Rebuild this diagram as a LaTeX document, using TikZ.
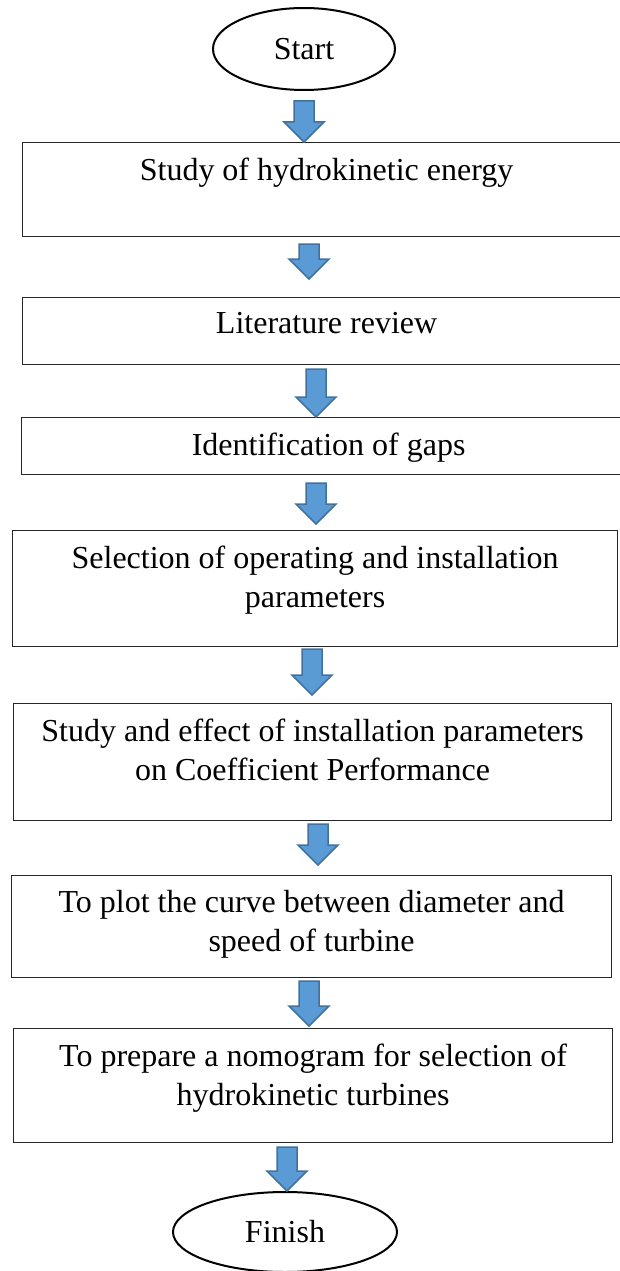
\documentclass[tikz,border=0pt]{standalone}
\usepackage{fontspec}
\setmainfont{Liberation Serif}
\usetikzlibrary{shapes.geometric,calc}
\definecolor{arrfill}{HTML}{5B9BD5}
\definecolor{arrline}{HTML}{41719C}
\tikzset{
  box/.style={draw=black!85, line width=1.2pt, inner sep=0pt, anchor=north west,
    font=\fontsize{32}{39}\selectfont},
  term/.style={ellipse, draw=black, line width=2pt, inner sep=0pt,
    font=\fontsize{32}{39}\selectfont},
  blockarrow/.style={fill=arrfill, draw=arrline, line width=1.5pt, line join=miter}
}
% #1 from node, #2 to node, #3 x centre, #4 gap below source, #5 gap above target
\newcommand{\flowarrow}[5]{%
  \path[blockarrow] let \p1=(#1.south), \p2=(#2.north) in
    ({(#3-10)*1pt},{\y1-#4pt}) -- ({(#3+10)*1pt},{\y1-#4pt})
    -- ({(#3+10)*1pt},{\y2+#5pt+20pt}) -- ({(#3+20)*1pt},{\y2+#5pt+20pt})
    -- ({#3*1pt},{\y2+#5pt}) -- ({(#3-20)*1pt},{\y2+#5pt+20pt})
    -- ({(#3-10)*1pt},{\y2+#5pt+20pt}) -- cycle;}
\newcommand{\boxcontent}[3]{\parbox[c][#1pt][t]{#2pt}{\centering\vspace*{15pt}#3\par}}
\begin{document}
\begin{tikzpicture}[x=1pt,y=-1pt]
\useasboundingbox (0,0) rectangle (620,1271);
\node[term, minimum width=182pt, minimum height=82pt] (start) at (304,49) {Start};
\node[box] (b1) at (22,142) {\boxcontent{94}{608}{Study of hydrokinetic energy}};
\node[box] (b2) at (22,297) {\boxcontent{67}{608}{Literature review}};
\node[box] (b3) at (21,417) {\boxcontent{57}{614}{Identification of gaps}};
\node[box] (b4) at (12,530) {\boxcontent{116}{605}{Selection of operating and installation\\parameters}};
\node[box] (b5) at (13,703) {\boxcontent{117}{598}{Study and effect of installation parameters\\on Coefficient Performance}};
\node[box] (b6) at (11,875) {\boxcontent{102}{600}{To plot the curve between diameter and\\speed of turbine}};
\node[box] (b7) at (13,1028) {\boxcontent{114}{599}{To prepare a nomogram for selection of\\hydrokinetic turbines}};
\node[term, minimum width=224pt, minimum height=80pt] (finish) at (285,1232) {Finish};
\flowarrow{start}{b1}{304}{10}{0}
\flowarrow{b1}{b2}{309}{7}{18}
\flowarrow{b2}{b3}{316}{4}{0}
\flowarrow{b3}{b4}{316}{8}{6}
\flowarrow{b4}{b5}{312}{2}{8}
\flowarrow{b5}{b6}{318}{3}{10}
\flowarrow{b6}{b7}{309}{3}{2}
\flowarrow{b7}{finish}{287}{4}{0}
\end{tikzpicture}
\end{document}
